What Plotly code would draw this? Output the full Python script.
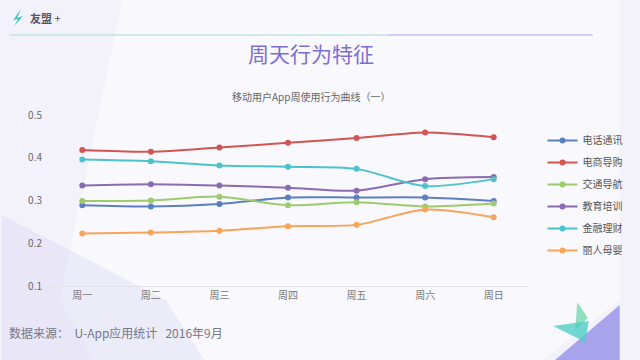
import plotly.graph_objects as go

days = ["周一", "周二", "周三", "周四", "周五", "周六", "周日"]
series_names = ["电话通讯", "电商导购", "交通导航", "教育培训", "金融理财", "丽人母婴"]
phone = [0.289, 0.286, 0.292, 0.307, 0.307, 0.307, 0.299]
ecommerce = [0.418, 0.414, 0.424, 0.435, 0.446, 0.459, 0.448]
traffic = [0.299, 0.300, 0.309, 0.289, 0.296, 0.286, 0.293]
education = [0.335, 0.338, 0.335, 0.330, 0.323, 0.350, 0.355]
finance = [0.396, 0.392, 0.382, 0.379, 0.374, 0.334, 0.350]
beauty = [0.223, 0.225, 0.229, 0.240, 0.243, 0.279, 0.261]
colors = ["#5b7fc0", "#d25555", "#9dca6c", "#8b6bb0", "#4cc2cb", "#f7a45c"]
y_ticks = [0.1, 0.2, 0.3, 0.4, 0.5]

W, H = 640, 360
L, R, T, B = 48, 545, 115, 286
FONT = "Noto Sans CJK SC"


def px(x):
    return (x - L) / (R - L)


def py(y):
    return (B - y) / (B - T)


def poly(points):
    d = "M " + " L ".join(f"{px(x):.4f},{py(y):.4f}" for x, y in points) + " Z"
    return d


fig = go.Figure()
for name, vals, c in zip(series_names, [phone, ecommerce, traffic, education, finance, beauty], colors):
    fig.add_trace(go.Scatter(
        x=days, y=vals, name=name, mode="lines+markers", legendgroup=name,
        line=dict(color=c, width=2, shape="spline", smoothing=0.8),
        marker=dict(color=c, size=6),
    ))

shapes = [
    dict(type="path", xref="paper", yref="paper", layer="below",
         path=poly([(125, 0), (640, 0), (640, 300), (560, 360), (95, 360), (60, 300)]),
         fillcolor="rgba(255,255,255,0.45)", line=dict(width=0)),
    dict(type="path", xref="paper", yref="paper", layer="below",
         path=poly([(0, 215), (170, 300), (210, 360), (0, 360)]),
         fillcolor="rgba(200,195,235,0.25)", line=dict(width=0)),
    dict(type="path", xref="paper", yref="paper", layer="below",
         path=poly([(573, 360), (640, 305), (640, 360)]),
         fillcolor="#a9a3ec", line=dict(width=0)),
    dict(type="path", xref="paper", yref="paper", layer="above",
         path=poly([(596, 302), (607, 318), (594, 330)]),
         fillcolor="rgba(110,215,170,0.75)", line=dict(width=0)),
    dict(type="path", xref="paper", yref="paper", layer="above",
         path=poly([(571, 326), (608, 321), (604, 344), (598, 339)]),
         fillcolor="rgba(80,205,200,0.8)", line=dict(width=0)),
    dict(type="line", xref="paper", yref="paper", x0=px(8), x1=px(400), y0=py(35), y1=py(35),
         line=dict(color="#bfe3df", width=1.5)),
    dict(type="line", xref="paper", yref="paper", x0=px(400), x1=px(612), y0=py(35), y1=py(35),
         line=dict(color="#c5bff0", width=1.5)),
    dict(type="path", xref="paper", yref="paper", layer="above",
         path=poly([(20, 9), (16, 18), (22, 16), (13, 26), (17, 19), (12, 20)]),
         fillcolor="#3cc3b5", line=dict(width=0)),
]

annotations = [
    dict(text="<b>友盟</b> +", x=px(27), y=py(18), xref="paper", yref="paper", xanchor="left",
         yanchor="middle", showarrow=False, font=dict(family=FONT, size=11, color="#555566")),
    dict(text="周天行为特征", x=px(320), y=py(53), xref="paper", yref="paper", xanchor="center",
         yanchor="middle", showarrow=False, font=dict(family=FONT, size=21, color="#7d6fd0")),
    dict(text="移动用户App周使用行为曲线（一）", x=px(320), y=py(96), xref="paper", yref="paper",
         xanchor="center", yanchor="middle", showarrow=False,
         font=dict(family=FONT, size=10, color="#666666")),
    dict(text="数据来源：  U-App应用统计   2016年9月", x=px(6), y=py(332), xref="paper", yref="paper",
         xanchor="left", yanchor="middle", showarrow=False,
         font=dict(family=FONT, size=12, color="#777788")),
]

fig.update_layout(
    width=W, height=H,
    margin=dict(l=L, r=W - R, t=T, b=H - B),
    paper_bgcolor="#f3f2fb", plot_bgcolor="rgba(0,0,0,0)",
    font=dict(family=FONT, size=10, color="#666666"),
    shapes=shapes, annotations=annotations,
    legend=dict(x=px(560), y=py(126), xanchor="left", yanchor="top",
                font=dict(family=FONT, size=10, color="#555555"),
                bgcolor="rgba(0,0,0,0)", tracegroupgap=3, itemwidth=30),
    showlegend=True,
)
fig.update_xaxes(type="category", range=[-0.5, 6.5], showgrid=False, showline=True,
                 linecolor="#e2e2ea", linewidth=1, ticks="", tickfont=dict(size=10, color="#777777"),
                 zeroline=False)
fig.update_yaxes(range=[0.1, 0.5], tickvals=y_ticks, ticktext=[f"{v:.1f}" for v in y_ticks],
                 showgrid=False, zeroline=False, showline=False, ticks="",
                 tickfont=dict(size=10, color="#666666"), ticklabelstandoff=5)

fig.write_html("out.html", config={"displayModeBar": False},
               post_script="document.body.style.margin='0';document.body.style.overflow='hidden';")
